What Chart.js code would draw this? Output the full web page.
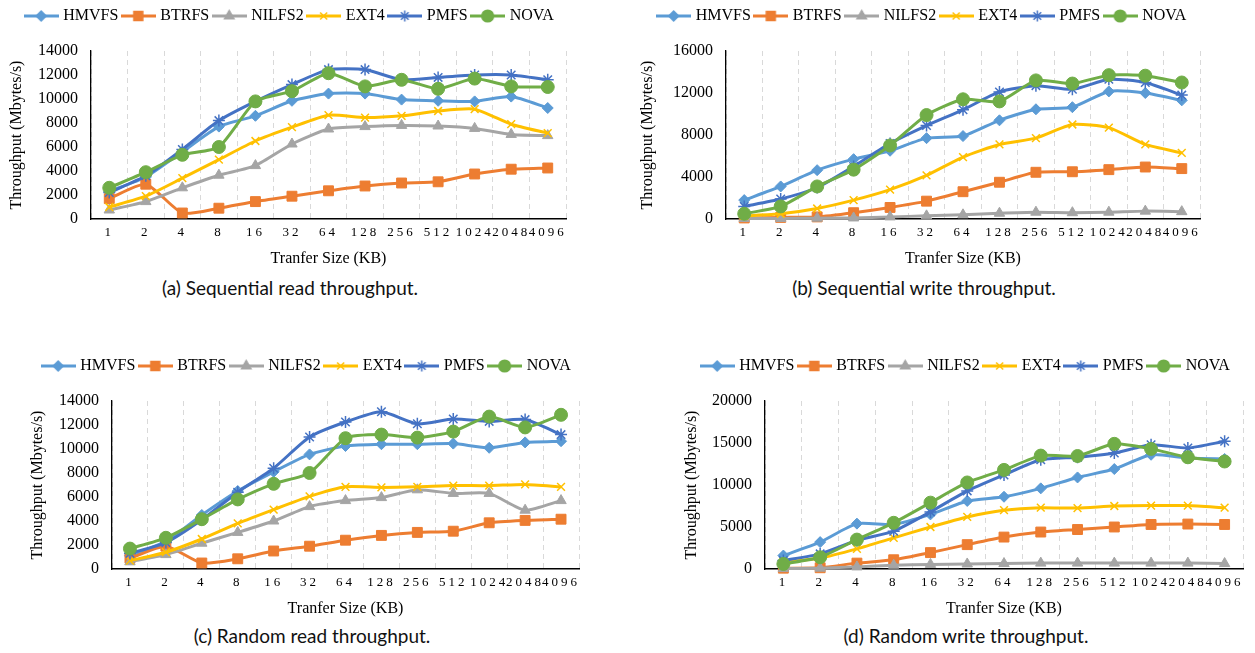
<!DOCTYPE html>
<html>
<head>
<meta charset="utf-8">
<script src="https://cdn.jsdelivr.net/npm/chart.js@4.4.1/dist/chart.umd.min.js"></script>
<style>
  html, body { margin: 0; padding: 0; background: #fff; width: 1255px; height: 653px; overflow: hidden; }
  canvas { position: absolute; }
  .cap { position: absolute; width: 400px; text-align: center; font-family: Lato, sans-serif; font-size: 19px; line-height: 22px; color: #111; }
</style>
</head>
<body>
<canvas id="seqRead" width="567" height="270" style="left:7px;top:0px"></canvas>
<canvas id="seqWrite" width="570" height="270" style="left:638px;top:0px"></canvas>
<canvas id="randRead" width="559" height="270" style="left:28px;top:350px"></canvas>
<canvas id="randWrite" width="569" height="270" style="left:682px;top:350px"></canvas>
<div class="cap" style="left:90px;top:277px">(a) Sequential read throughput.</div>
<div class="cap" style="left:724px;top:277px">(b) Sequential write throughput.</div>
<div class="cap" style="left:112px;top:625px">(c) Random read throughput.</div>
<div class="cap" style="left:766px;top:625px">(d) Random write throughput.</div>
<script>
// Transfer sizes (KB)
const sizes = ['1', '2', '4', '8', '16', '32', '64', '128', '256', '512', '1024', '2048', '4096'];
const names = ['HMVFS', 'BTRFS', 'NILFS2', 'EXT4', 'PMFS', 'NOVA'];

// (a) Sequential read
const hmvfsSR = [2300, 3500, 5600, 7700, 8600, 9850, 10450, 10450, 9950, 9850, 9800, 10200, 9250];
const btrfsSR = [1700, 2900, 500, 900, 1450, 1900, 2350, 2750, 3000, 3100, 3750, 4150, 4250];
const nilfsSR = [750, 1450, 2600, 3650, 4450, 6250, 7500, 7700, 7800, 7750, 7550, 7050, 6950];
const ext4SR = [1000, 1900, 3400, 4950, 6500, 7650, 8650, 8450, 8600, 9000, 9150, 7900, 7150];
const pmfsSR = [2200, 3600, 5800, 8200, 9800, 11200, 12450, 12450, 11600, 11800, 12000, 12000, 11600];
const novaSR = [2600, 3900, 5350, 6000, 9800, 10650, 12150, 11050, 11600, 10850, 11700, 11050, 11000];

// (b) Sequential write
const hmvfsSW = [1800, 3100, 4650, 5700, 6500, 7700, 7900, 9400, 10450, 10650, 12150, 12000, 11300];
const btrfsSW = [100, 150, 200, 600, 1100, 1700, 2600, 3500, 4450, 4500, 4700, 4950, 4800];
const nilfsSW = [50, 50, 80, 100, 200, 300, 400, 550, 650, 600, 650, 750, 700];
const ext4SW = [300, 500, 1000, 1800, 2800, 4150, 5900, 7100, 7700, 9000, 8700, 7100, 6300];
const pmfsSW = [1200, 1900, 3000, 5000, 7200, 8900, 10400, 12100, 12700, 12350, 13300, 13000, 11800];
const novaSW = [500, 1200, 3100, 4700, 7000, 9900, 11400, 11200, 13200, 12900, 13700, 13650, 13000];

// (c) Random read
const hmvfsRR = [1100, 2300, 4500, 6500, 8100, 9550, 10250, 10400, 10400, 10450, 10100, 10550, 10650];
const btrfsRR = [900, 1900, 500, 850, 1500, 1900, 2400, 2800, 3050, 3150, 3850, 4050, 4150];
const nilfsRR = [600, 1200, 2150, 3050, 4000, 5200, 5700, 5950, 6600, 6300, 6300, 4900, 5700];
const ext4RR = [700, 1400, 2500, 3800, 4950, 6050, 6850, 6800, 6850, 6950, 6950, 7050, 6850];
const pmfsRR = [1300, 2200, 4100, 6400, 8400, 11000, 12250, 13100, 12100, 12500, 12300, 12450, 11200];
const novaRR = [1700, 2600, 4150, 5800, 7100, 8000, 10900, 11200, 10950, 11450, 12700, 11800, 12850];

// (d) Random write
const hmvfsRW = [1600, 3200, 5400, 5300, 6500, 8100, 8600, 9600, 10900, 11900, 13600, 13200, 13100];
const btrfsRW = [100, 150, 700, 1100, 1950, 2900, 3800, 4400, 4700, 5000, 5300, 5350, 5300];
const nilfsRW = [50, 100, 250, 450, 550, 600, 650, 700, 700, 700, 700, 700, 650];
const ext4RW = [800, 1300, 2400, 3700, 5000, 6200, 7000, 7300, 7250, 7500, 7550, 7550, 7300];
const pmfsRW = [1000, 1800, 3400, 4500, 6800, 9300, 11200, 13000, 13300, 13800, 14800, 14400, 15200];
const novaRW = [600, 1400, 3500, 5500, 7900, 10300, 11800, 13500, 13450, 14900, 14300, 13300, 12800];

// Excel-like series styles
const colors = ['#5B9BD5', '#ED7D31', '#A5A5A5', '#FFC000', '#4472C4', '#70AD47'];
const markers = ['rectRot', 'rect', 'triangle', 'crossRot', 'star', 'circle'];
const radii = [5.5, 7, 6, 5.5, 6, 6.5];

const SERIF = "'Liberation Serif', 'Times New Roman', serif";
Chart.defaults.font.family = SERIF;
Chart.defaults.font.size = 16;
Chart.defaults.color = '#000';
const f16 = { family: SERIF, size: 16 };

// small line+marker pictures for the legend
function legendIcon(i) {
  const c = document.createElement('canvas');
  c.width = 35; c.height = 16;
  const g = c.getContext('2d');
  g.strokeStyle = colors[i];
  g.lineWidth = 3;
  g.beginPath(); g.moveTo(0, 8); g.lineTo(35, 8); g.stroke();
  g.fillStyle = colors[i];
  g.lineWidth = 1.5;
  Chart.helpers.drawPoint(g, { pointStyle: markers[i], radius: radii[i] * 0.9, rotation: 0, borderWidth: 1.5 }, 17.5, 8);
  return c;
}
const icons = names.map((n, i) => legendIcon(i));

// push plot area below the legend
const legendGap = {
  id: 'legendGap',
  beforeInit(chart) {
    const fit = chart.legend.fit;
    chart.legend.fit = function () { fit.call(this); this.height += 17; };
  }
};

// wide spacing of the category labels
const spacedTicks = {
  id: 'spacedTicks',
  afterLayout(chart) {
    const s = chart.scales.x;
    if (s._spaced) return;
    const orig = s.drawLabels;
    s.drawLabels = function (area) {
      this.ctx.save();
      this.ctx.letterSpacing = '3px';
      orig.call(this, area);
      this.ctx.restore();
    };
    s._spaced = true;
  }
};

function makeChart(id, series, ymax, step, yWidth) {
  const datasets = series.map((vals, i) => ({
    label: names[i],
    data: vals,
    borderColor: colors[i],
    backgroundColor: colors[i],
    borderWidth: 3,
    pointStyle: markers[i],
    pointRadius: radii[i],
    pointBorderWidth: (markers[i] === 'crossRot' || markers[i] === 'star') ? 1.5 : 1,
    pointBackgroundColor: colors[i],
    pointBorderColor: colors[i],
    tension: 0.2,
    clip: false,
    order: series.length - i
  }));

  new Chart(document.getElementById(id).getContext('2d'), {
    type: 'line',
    data: { labels: sizes, datasets: datasets },
    plugins: [legendGap, spacedTicks],
    options: {
      responsive: false,
      animation: false,
      layout: { padding: { top: 2, left: 0, right: 0, bottom: 0 } },
      plugins: {
        tooltip: { enabled: false },
        legend: {
          position: 'top',
          labels: {
            usePointStyle: true,
            pointStyleWidth: 28,
            padding: 6,
            color: '#000',
            font: f16,
            generateLabels: (chart) => chart.data.datasets.map((d, i) => ({
              text: d.label, pointStyle: icons[i], fillStyle: colors[i],
              strokeStyle: colors[i], lineWidth: 0, hidden: false, datasetIndex: i
            }))
          }
        }
      },
      scales: {
        x: {
          offset: true,
          grid: { offset: true, color: '#d9d9d9', lineWidth: 1, drawTicks: false },
          border: { display: true, color: '#000', width: 1.5, dash: [5, 4] },
          ticks: { font: { family: SERIF, size: 13 }, color: '#000', padding: 6, maxRotation: 0, autoSkip: false },
          title: { display: true, text: 'Tranfer Size (KB)', font: f16, color: '#000', padding: { top: 0, bottom: 2 } },
          afterFit(s) { s.height = 51; }
        },
        y: {
          min: 0,
          max: ymax,
          ticks: { stepSize: step, font: f16, color: '#000', padding: 13, callback: (v) => String(v) },
          grid: { display: false, drawTicks: false },
          border: { display: true, color: '#000', width: 1.3 },
          title: { display: true, text: 'Throughput (Mbytes/s)', font: f16, color: '#000', padding: { top: 0, bottom: 0 } },
          afterFit(s) { s.width = yWidth; }
        }
      }
    }
  });
}

makeChart('seqRead', [hmvfsSR, btrfsSR, nilfsSR, ext4SR, pmfsSR, novaSR], 14000, 2000, 84);
makeChart('seqWrite', [hmvfsSW, btrfsSW, nilfsSW, ext4SW, pmfsSW, novaSW], 16000, 2000, 88);
makeChart('randRead', [hmvfsRR, btrfsRR, nilfsRR, ext4RR, pmfsRR, novaRR], 14000, 2000, 84);
makeChart('randWrite', [hmvfsRW, btrfsRW, nilfsRW, ext4RW, pmfsRW, novaRW], 20000, 5000, 83);
</script>
</body>
</html>
